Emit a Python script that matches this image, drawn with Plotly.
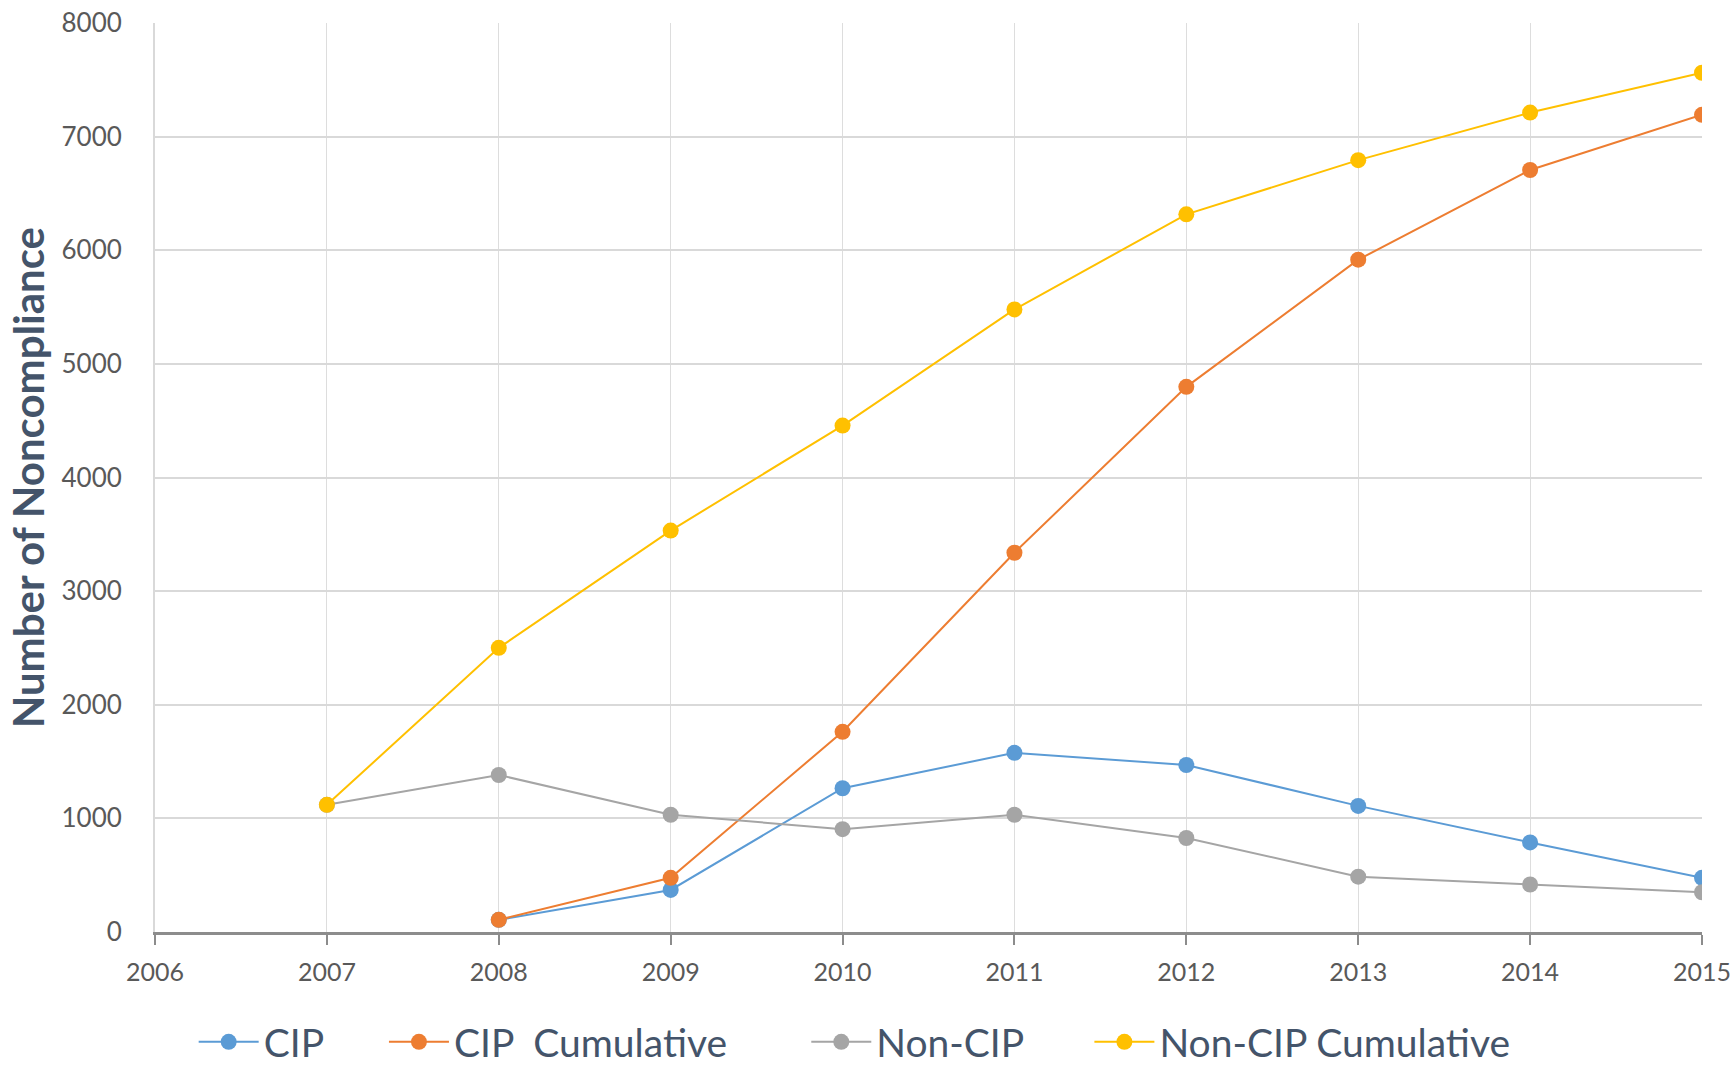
import plotly.graph_objects as go

years = [2007, 2008, 2009, 2010, 2011, 2012, 2013, 2014, 2015]
cip = [None, 107, 370, 1265, 1577, 1470, 1110, 788, 477]
cip_cum = [None, 107, 477, 1762, 3338, 4798, 5917, 6706, 7192]
non_cip = [1119, 1382, 1032, 905, 1032, 827, 487, 418, 350]
non_cip_cum = [1119, 2501, 3533, 4457, 5479, 6316, 6793, 7212, 7562]

series = [
    ("CIP", cip, "#5B9BD5", "legend", 0.025),
    ("CIP  Cumulative", cip_cum, "#ED7D31", "legend2", 0.148),
    ("Non-CIP", non_cip, "#A5A5A5", "legend3", 0.421),
    ("Non-CIP Cumulative", non_cip_cum, "#FFC000", "legend4", 0.604),
]

fig = go.Figure()
legend_layout = {}
for name, vals, col, leg, lx in series:
    fig.add_trace(go.Scatter(
        x=years, y=vals, name=name, mode="lines+markers",
        line=dict(color=col, width=2),
        marker=dict(color=col, size=16),
        legend=leg,
    ))
    legend_layout[leg] = dict(
        orientation="h", x=lx, xanchor="left", y=-0.121, yanchor="middle",
        font=dict(size=39, color="#44546A", family="Lato, Roboto, sans-serif"),
        itemwidth=60, bgcolor="rgba(0,0,0,0)",
    )

fig.update_layout(
    width=1734, height=1065,
    paper_bgcolor="white", plot_bgcolor="white",
    margin=dict(l=155, r=32, t=23, b=133, autoexpand=False),
    font=dict(family="Lato, Roboto, sans-serif", color="#595959"),
    showlegend=True,
    **legend_layout,
)
fig.update_xaxes(
    range=[2006, 2015], dtick=1, tick0=2006,
    showgrid=True, gridcolor="#DDDDDD", gridwidth=1,
    showline=True, linecolor="#8C8C8C", linewidth=3,
    ticks="outside", ticklen=10, tickcolor="#8C8C8C", tickwidth=2,
    ticklabelstandoff=6, ticklabeloverflow="allow",
    tickfont=dict(size=25, color="#595959"),
    zeroline=False,
)
fig.update_yaxes(
    range=[0, 8000], dtick=1000,
    showgrid=True, gridcolor="#D9D9D9", gridwidth=2,
    showline=True, linecolor="#D9D9D9", linewidth=2,
    ticklabelstandoff=26, ticklabeloverflow="allow",
    tickfont=dict(size=26, color="#595959"),
    title=dict(text="<b>Number of Noncompliance</b>",
               font=dict(size=42, color="#44546A", family="Lato, Roboto, sans-serif"),
               standoff=4),
    zeroline=False,
)

fig.write_html(
    "out.html",
    config={"displayModeBar": False},
    post_script="document.body.style.margin='0px';document.body.style.overflow='hidden';",
)
